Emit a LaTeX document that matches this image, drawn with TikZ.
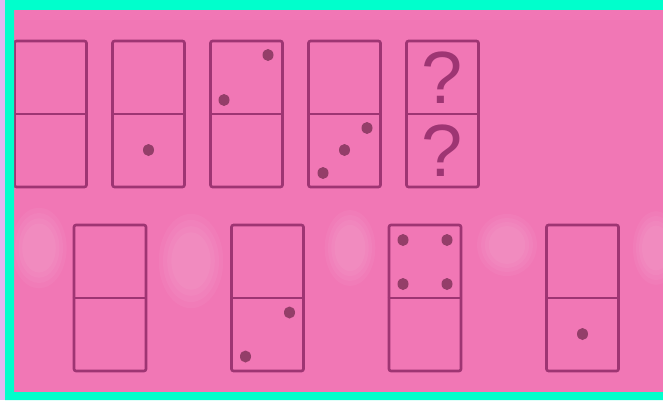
\documentclass[tikz,border=0pt]{standalone}
\usepackage{fontspec}
\usepackage{xcolor}
\usetikzlibrary{calc}
\newfontfamily\sanslib{Liberation Sans}
\definecolor{fondorosa}{HTML}{F177B5}
\definecolor{bordoacqua}{HTML}{00FFCC}
\definecolor{lillachiaro}{HTML}{DFB9F1}
\definecolor{tratto}{HTML}{9E3573}
\definecolor{puntoscuro}{HTML}{943E69}
\newlength{\larghezza}
\setlength{\larghezza}{663pt}
\newlength{\altezza}
\setlength{\altezza}{400pt}
\newcommand{\tessera}[3]{
  % #1 = nome della tessera, #2 = x del centro, #3 = y del centro
  \node[tessera] (#1) at (#2,#3) {};
  \draw[tratto, line width=2.6pt] (#1.west) -- (#1.east);
}
\newcommand{\punto}[3]{
  % #1 = tessera, #2 #3 = spostamento dal centro della tessera
  \fill[puntoscuro] ($(#1.center)+(#2,#3)$) ellipse (5.5pt and 6pt);
}

\begin{document}
\begin{tikzpicture}[x=1pt,y=1pt,
  tessera/.style={draw=tratto, line width=2.6pt, rounded corners=2pt, inner sep=0pt,
    minimum width=72pt, minimum height=146pt},
  domanda/.style={inner sep=0pt, text=tratto, font=\sanslib\fontsize{74}{74}\selectfont},
  macchia/.style={fill=white, opacity=0.045}]

  \useasboundingbox (0,0) rectangle (\larghezza,\altezza);

  % ---- Sfondo rosa ---------------------------------------------------------
  \fill[fondorosa] (0,0) rectangle (\larghezza,\altezza);

  % Macchie chiare, sfocate, dietro la fila in basso
  \foreach \cx/\cy/\rx/\ry in {39/152/24/35, 191/139/28/41, 350/152/22/33, 507/155/26/27, 656/152/20/32}{
    \foreach \f in {1.15,1.0,0.85,0.7}{
      \fill[macchia] (\cx,\cy) ellipse ({\rx*\f*1pt} and {\ry*\f*1pt});
    }
  }

  % ---- Fila in alto: la sequenza ---------------------------------------------
  \tessera{t1}{50.5}{286}
  \tessera{t2}{148.5}{286}
  \tessera{t3}{246.5}{286}
  \tessera{t4}{344.5}{286}
  \tessera{t5}{442.5}{286}

  \punto{t2}{0}{-36}
  \punto{t3}{21.5}{59}
  \punto{t3}{-22.5}{14}
  \punto{t4}{22.5}{-14}
  \punto{t4}{0}{-36}
  \punto{t4}{-21.5}{-59}

  \node[domanda] (q1) at ($(t5.center)+(0,36.5)$) {?};
  \node[domanda] (q2) at ($(t5.center)+(0,-36.5)$) {?};

  % ---- Fila in basso: le risposte ---------------------------------------------
  \tessera{r1}{110}{102}
  \tessera{r2}{267.5}{102}
  \tessera{r3}{425}{102}
  \tessera{r4}{582.5}{102}

  \punto{r2}{22}{-14.5}
  \punto{r2}{-22}{-58.5}
  \punto{r3}{-22}{58}
  \punto{r3}{22}{58}
  \punto{r3}{-22}{14}
  \punto{r3}{22}{14}
  \punto{r4}{0}{-36}

  % ---- Cornice verde acqua e striscia lilla a sinistra -------------------------
  \fill[bordoacqua, even odd rule] (5,0) rectangle (\larghezza,\altezza)
    (14,8) rectangle (\larghezza+10pt,390);
  \fill[lillachiaro] (0,0) rectangle (5,\altezza);

\end{tikzpicture}
\end{document}
